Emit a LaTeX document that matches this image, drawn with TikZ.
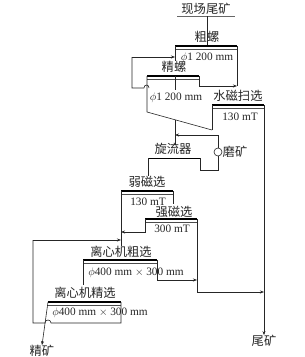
\documentclass[tikz,border=0pt]{standalone}
\usepackage{fontspec}
\setmainfont{Liberation Serif}
\newfontfamily\cjk{Noto Sans CJK SC}
\usetikzlibrary{arrows.meta}
\tikzset{
  flow/.style={line width=0.6pt, draw=black!85},
  arr/.style={flow, -{Stealth[length=4pt,width=3pt]}},
  unittop/.style={line width=1.5pt, draw=black},
  unitsub/.style={line width=0.45pt, draw=black!70},
  lab/.style={font=\cjk\fontsize{12.3}{13}\selectfont, inner sep=0pt, text=black!85},
  par/.style={font=\fontsize{11.3}{13}\selectfont, inner sep=0pt, text=black!85},
}
\newcommand{\unitline}[2]{%
  \draw[unittop] (#1) -- (#2);
  \draw[unitsub] ([yshift=-3pt]#1) -- ([yshift=-3pt]#2);}
\begin{document}
\begin{tikzpicture}[x=1pt,y=-1pt]
\useasboundingbox[fill=white] (0,0) rectangle (305,357);
% unit corner coordinates
\coordinate (A1) at (175,46);  \coordinate (A2) at (237,46);   % coarse spiral
\coordinate (B1) at (147,76);  \coordinate (B2) at (199,76);   % fine spiral
\coordinate (C1) at (212,105); \coordinate (C2) at (264,105);  % water magnetic scavenging
\coordinate (D1) at (148,158); \coordinate (D2) at (200,158);  % cyclone
\coordinate (E1) at (121,191); \coordinate (E2) at (173,191);  % weak magnetic
\coordinate (F1) at (145,219); \coordinate (F2) at (197,219);  % strong magnetic
\coordinate (G1) at (83,260);  \coordinate (G2) at (157,260);  % centrifuge rougher
\coordinate (H1) at (48,302);  \coordinate (H2) at (121,302);  % centrifuge cleaner
% feed
\node[lab] (feed) at (206,9) {现场尾矿};
\coordinate (feedL) at (177,16); \coordinate (feedR) at (235,16);
\draw[line width=0.4pt, draw=black!60] (feedL) -- (feedR);
\draw[flow] (207,16) -- (207,46);
% units
\unitline{A1}{A2}
\unitline{B1}{B2}
\unitline{C1}{C2}
\draw[line width=1pt] (D1) -- (D2);
\unitline{E1}{E2}
\unitline{F1}{F2}
\unitline{G1}{G2}
\unitline{H1}{H2}
% labels
\node[lab] (lA) at (207,37) {粗螺};
\node[par] (pA) at (207,58) {$\phi$1 200 mm};
\node[lab] (lB) at (174,67) {精螺};
\node[par] (pB) at (176,98) {$\phi$1 200 mm};
\node[lab] (lC) at (238,96) {水磁扫选};
\node[par] (pC) at (240,117) {130 mT};
\node[lab] (lD) at (173,149) {旋流器};
\node[circle, draw=black!85, line width=0.6pt, minimum size=8pt, inner sep=0pt] (mill) at (218,152) {};
\node[lab, anchor=west] (lmill) at (222.5,152) {磨矿};
\node[lab] (lE) at (147,182) {弱磁选};
\node[par] (pE) at (148,202) {130 mT};
\node[lab] (lF) at (174,212) {强磁选};
\node[par] (pF) at (172,229) {300 mT};
\node[lab] (lG) at (121,252) {离心机粗选};
\node[par] (pG) at (136,273) {$\phi$400 mm $\times$ 300 mm};
\node[lab] (lH) at (85,293) {离心机精选};
\node[par] (pH) at (100,313) {$\phi$400 mm $\times$ 300 mm};
\node[lab] (conc) at (42,351) {精矿};
\node[lab] (tail) at (264,341) {尾矿};
% coarse spiral
\draw[flow] (A1) -- (lB.north -| A1);
\draw[flow] (A2) -- ++(0,40) coordinate (J1);
% fine spiral
\draw[flow] (B1 -| A1) -- ++(0,14);
\draw[arr] (B2) -- ++(0,10) -- (J1);
\coordinate (Bd) at (147,112);
\draw[flow] (B1) -- (Bd) -- (212,130);
\draw[flow] (149,88) .. controls (149,84) and (144,84) .. (144,88) -- (132,88) -- (132,57) coordinate (L1);
\draw[arr] (L1) -- (A1 |- L1);
% water magnetic scavenging
\draw[flow] (C1) -- (212,130);
\draw[arr] (C2) -- (tail.north);
% to cyclone
\draw[flow] (175,119.6) -- (175,145);
\draw[arr] (mill.north) -- (218,135) -- (175,135);
\draw[flow] (mill.south) -- (218,170) -- (200,170) -- (D2);
\draw[flow] (D1) -- (148,176);
% weak magnetic
\draw[flow] (E2) -- (173,204);
\draw[flow] (E1) -- (121,246);
% strong magnetic
\draw[arr] (F1) -- (145,232) -- (121,232);
\draw[arr] (F2) -- (197,292) -- (C2 |- 0,292);
% centrifuge rougher
\draw[flow] (G1) -- (83,285);
\draw[arr] (G2) -- (157,280) -- (197,280);
% centrifuge cleaner
\draw[arr] (H1) -- (conc.north);
\draw[flow] (H2) -- (121,323) -- (51,323) .. controls (51,319) and (45,319) .. (45,323) -- (33,323) -- (33,240) coordinate (L2);
\draw[arr] (L2) -- (E1 |- L2);
\end{tikzpicture}
\end{document}
